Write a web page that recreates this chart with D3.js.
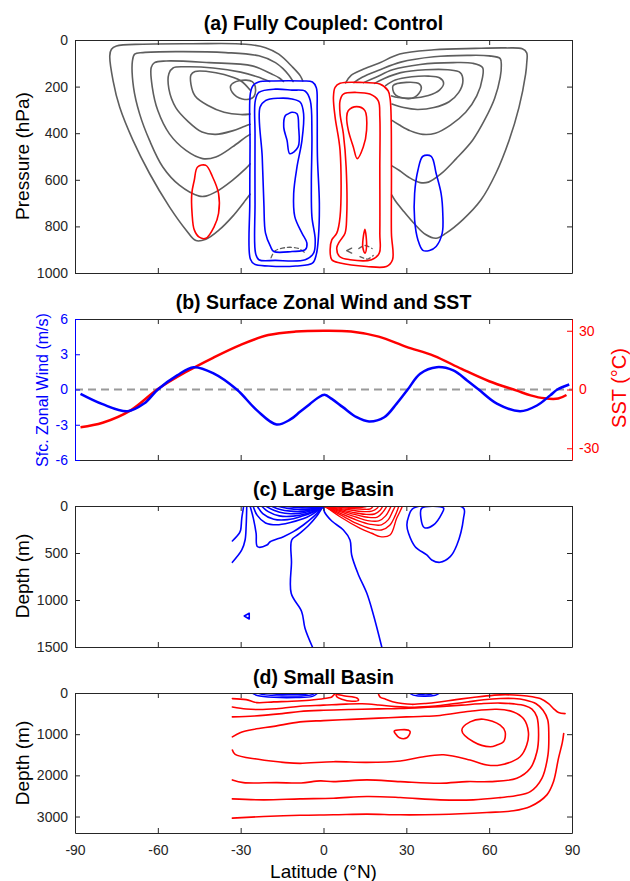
<!DOCTYPE html>
<html><head><meta charset="utf-8">
<script src="https://cdn.jsdelivr.net/npm/d3@7"></script>
<style>
body{margin:0;background:#fff;}
svg{display:block;}
</style></head><body>
<svg id="chart" width="630" height="881"></svg>
<script>
// ================= DATA =================
const latTicks = [-90, -60, -30, 0, 30, 60, 90];
const pTicks = [0, 200, 400, 600, 800, 1000];
const windTicks = [-6, -3, 0, 3, 6];
const sstTicks = [-30, 0, 30];
const depthTicksC = [0, 500, 1000, 1500];
const depthTicksD = [0, 1000, 2000, 3000];
const titles = ["(a) Fully Coupled: Control", "(b) Surface Zonal Wind and SST", "(c) Large Basin", "(d) Small Basin"];

// ---- Panel (b): surface zonal wind (m/s) and SST (°C) ----
const windLat = [-88,-80,-71,-65,-60,-53,-47,-40,-31.4,-24,-17,-12,-8.5,-5,-2,0.4,3,7,12,16.5,22,26.5,30.5,35,41,47,52,56.2,62.8,71.2,77.3,82.1,84.7,89];
const windVal = [-0.37,-1.25,-1.85,-1.2,0,1.2,1.9,1.4,0,-1.8,-2.98,-2.55,-1.9,-1.25,-0.7,-0.45,-0.8,-1.5,-2.36,-2.72,-2.36,-1.2,0,1.34,1.9,1.62,0.77,0,-1.2,-1.85,-1.36,-0.5,0,0.43];
const sstLat = [-88,-80,-70,-60,-50,-40,-30,-20,-10,0,10,20,30,40,50,60,70,75,80,85,88];
const sstVal = [-19.3,-17.0,-10.8,0.2,8.8,16.2,22.8,27.8,29.6,30.0,29.6,27.0,21.8,17.2,10.5,4.2,-0.6,-3.0,-4.5,-4.6,-2.8];

// ---- Panel (a): atmospheric contours, [latitude, pressure hPa] ----
const aGray1 = [[-7.5,176],[-8.4,154],[-11.4,114],[-16.2,61],[-21,33],[-28.2,18],[-47.4,16],[-65.4,18],[-75,26],[-76.8,40],[-77.4,68],[-76.2,175],[-73.8,289],[-69,431],[-63,573],[-55.8,716],[-49.8,815],[-46.2,861],[-42.6,855],[-37.8,815],[-33,758],[-28.2,687],[-26.6,662]];
const aGray2 = [[-11,178],[-12.6,150],[-14.5,125],[-17.4,97],[-23.4,68],[-35.4,54],[-53.4,50],[-65.4,54],[-68.4,61],[-69.2,90],[-68.8,203],[-66.6,317],[-63,431],[-58.2,545],[-52.2,623],[-45,670],[-42.6,670],[-39,652],[-33,602],[-28.2,552],[-26.6,532]];
const aGray3 = [[-14.5,178],[-16,163],[-18.6,147],[-25.8,111],[-41.4,97],[-57,90],[-61.2,97],[-62.4,118],[-62,203],[-60,303],[-55.8,403],[-49.8,474],[-43.8,509],[-39,502],[-33,459],[-28.2,417],[-26.6,405]];
const aGray4 = [[-19.5,178],[-24,158],[-30,138],[-40,120],[-50,115],[-54.5,120],[-56,145],[-56,210],[-53.5,290],[-49,350],[-44,395],[-39,405],[-33,390],[-28.5,370],[-26.6,362]];
const aGray5 = [[-26.6,215],[-30,175],[-36,148],[-42,135],[-46.5,135],[-48,150],[-48,190],[-46.5,240],[-42,280],[-36,310],[-30,320],[-26.6,318]];
const aGrayN1 = [[8,184],[10,152],[14,128],[20,100],[27.6,60],[40,42],[55,36],[66,34],[72,38],[73.6,55],[73.6,100],[73.2,146],[70.8,289],[67.2,431],[62.4,573],[57,687],[50.4,772],[44.4,829],[40.8,851],[37,835],[33,790],[29,735],[26,690],[24.7,665]];
const aGrayN2 = [[11,183],[14,160],[20,130],[28,95],[40,72],[52,66],[60,68],[64,80],[64.4,110],[64,160],[62,250],[58.5,340],[54,430],[48,510],[42.5,575],[38,610],[35,612],[31,590],[27.5,560],[24.8,540]];
const aGrayN3 = [[14.5,183],[19,160],[25,128],[35,105],[47,97],[54,100],[57.6,118],[57.6,160],[55.5,240],[51.5,310],[46,365],[40.5,400],[36,405],[31.5,390],[27.5,365],[24.8,345]];
const aGrayN4 = [[18.5,186],[22,165],[28,140],[37,128],[45,128],[49.5,140],[50.5,175],[49,225],[45.5,265],[40,290],[34,298],[29,290],[24.8,275]];
const aGrayN5 = [[22.5,196],[26,172],[32,158],[38,155],[42,162],[43.5,185],[42,215],[38,238],[32,250],[27,247],[24.7,240]];
const aGrayLoopS = [[-33.6,196],[-30.6,175],[-25.8,179],[-24.6,218],[-25.8,249],[-29.4,253],[-33,225]];
const aGrayLoopN = [[25.2,196],[30,182],[34.8,189],[35.4,210],[33,246],[28.8,249],[25.8,232]];
const aDash1 = [[-19,935],[-17.5,905],[-13,890],[-9,895],[-6.8,912]];
const aDash2 = [[10.2,893],[8.4,904],[10.2,915]];
const aDash3 = [[12.8,895],[15,882],[17.6,895]];
const aDash4 = [[13.2,930],[16,940],[18,925]];
const aBlue1 = [[-26.5,230],[-25.5,195],[-23.5,180],[-18,176],[-8,176],[-4,180],[-2.6,205],[-2.3,300],[-2.2,500],[-1.5,700],[-1.8,840],[-2.6,920],[-4,958],[-10,970],[-20,970],[-25,962],[-26.5,940],[-26.7,700],[-26.6,450]];
const aBlue2 = [[-24.7,260],[-23.4,225],[-17.4,211],[-11.4,215],[-6.6,220],[-4.8,260],[-4.2,403],[-4.4,616],[-4.2,758],[-3,858],[-3.6,915],[-6.6,943],[-17.4,946],[-23.4,943],[-24.6,915],[-24.8,700],[-24.8,403]];
const aBlue3 = [[-23,289],[-21,260],[-16.2,250],[-11.4,253],[-8.4,267],[-7.2,317],[-7.8,431],[-9.6,545],[-10.8,659],[-10.4,758],[-7.8,829],[-6,872],[-6.6,900],[-11.4,908],[-18,908],[-19.2,886],[-21,829],[-21.6,700],[-22.2,500]];
const aBlue4 = [[-12.8,317],[-11.4,310],[-9.6,317],[-9,374],[-9.2,459],[-12.2,488],[-13.2,431],[-14.4,374],[-13.8,324]];
const aBlueN = [[36,499],[39,499],[40.8,573],[42.6,659],[43.2,744],[43,829],[40.8,886],[38.4,903],[36,903],[34.2,858],[33,772],[33,659],[34.2,559]];
const aRedS = [[-45.6,545],[-42.6,538],[-40.2,587],[-38,659],[-38,744],[-39.6,801],[-42.6,851],[-45,846],[-46.8,815],[-47.6,744],[-47.7,659],[-46.8,602]];
const aRed1 = [[3.6,246],[4.2,203],[6,186],[13.2,182],[20.4,189],[23.4,218],[24.2,260],[24.6,545],[24.6,829],[25,943],[22.8,972],[15.6,972],[6,957],[3,943],[2.4,900],[3,858],[4.8,829],[6,758],[6,474],[4.2,331]];
const aRed2 = [[6,260],[7.2,232],[12,225],[16.8,232],[19.8,260],[20.4,331],[20.4,545],[20.4,829],[20.2,915],[17.4,943],[9.6,943],[5.8,929],[4.8,893],[5.8,865],[7.8,829],[8.4,758],[8.2,545],[7.2,403],[6,317]];
const aRed3 = [[9,303],[12,286],[15,303],[15.6,388],[14.4,459],[12.2,509],[10.8,459],[9,388],[8.4,331]];
const aRed4 = [[15,812],[15.6,886],[15,915],[14.2,886]];

// ---- Panel (c): large basin, [latitude, depth m] ----
const cBlueA = [[-29,0],[-29,14],[-29.6,131],[-30,255],[-30.5,290],[-33,372]];
const cBlueB = [[-27.8,0],[-28,202],[-28.4,362],[-29.6,468],[-33,599]];
const cBlueC = [[-26.6,0],[-25.4,131],[-24.4,291],[-23.9,433],[-20.5,415],[-19.3,380],[-14.5,326],[-10.9,273],[-7.3,202],[-3.6,114],[-1.2,43],[0,0]];
const cBlueF1 = [[-25.5,0],[-24,100],[-21,180],[-17,200],[-12,175],[-6,120],[-2,50],[0,0]];
const cBlueF2 = [[-24,0],[-22,80],[-18,140],[-13,145],[-8,110],[-3,55],[0,0]];
const cBlueF3 = [[-22.5,0],[-20,60],[-16,105],[-11,108],[-6,80],[-2,35],[0,0]];
const cBlueF4 = [[-21,0],[-18,45],[-14,78],[-9,78],[-5,55],[-1.5,22],[0,0]];
const cBlueF5 = [[-19,0],[-16,35],[-12,55],[-7,55],[-3,33],[0,0]];
const cBlueF6 = [[-17,0],[-13,25],[-9,38],[-5,33],[-2,18],[0,0]];
const cBlueF7 = [[-14,0],[-10,15],[-6,22],[-3,15],[0,0]];
const cBlueF8 = [[-11,0],[-7,9],[-4,11],[-1.5,6],[0,0]];
const cBlueV = [[-4,1500],[-6.7,1301],[-7.9,1124],[-11.7,929],[-11.6,600],[-11.5,362],[-9,300],[-5.5,210],[-2.5,110],[-0.6,25],[0,0],[0.3,60],[3,160],[7.2,255],[9.6,362],[10.2,521],[12.5,720],[15.7,929],[18.1,1160],[21.1,1500]];
const cBlueTri = [[-28.7,1170],[-26.9,1141],[-26.9,1202]];
const cBlueLoop1 = [[32.6,22],[50.7,22],[50.7,131],[48.3,415],[45.9,539],[42.2,599],[39.2,574],[37.4,521],[33.2,433],[30.8,291],[30.2,202],[30.8,114]];
const cBlueLoop2 = [[35.6,22],[43.5,22],[42.9,78],[39.8,202],[36.5,230],[35.3,131]];
const cRed1 = [[0.5,0],[6,114],[13.3,237],[17.5,290],[20.5,326],[24.1,309],[26.5,131],[28.4,14],[28.5,0]];
const cRed2 = [[0,0],[6,92],[12,185],[17,240],[21,255],[24,205],[26,100],[27.3,0]];
const cRed3 = [[0,0],[6,75],[12,150],[17,195],[21,200],[23.5,145],[25,60],[26,0]];
const cRed4 = [[0,0],[6,60],[12,120],[16,155],[20,158],[22.5,105],[24.5,0]];
const cRed5 = [[0,0],[6,48],[12,95],[16,120],[19.5,118],[21.5,65],[23,0]];
const cRed6 = [[0,0],[6,36],[11,70],[15,88],[18.5,85],[20.5,45],[21.5,0]];
const cRed7 = [[0,0],[6,25],[11,48],[15,60],[17.5,55],[19.5,22],[20,0]];
const cRed8 = [[0,0],[6,15],[11,30],[14.5,35],[17,30],[18,0]];
const cRed9 = [[0,0],[6,7],[10,14],[13.5,16],[15.5,6],[16,0]];

// ---- Panel (d): small basin, [latitude, depth m] ----
const dRed1 = [[-33,136],[-28,160],[-24.2,233],[-18,215],[-11.5,201],[-5,175],[-1.8,152],[1.5,120],[3,96],[4.2,15],[4.4,0]];
const dRedTop = [[19.8,0],[20.5,100],[22.5,150],[25,210],[28.5,257],[32,275],[37,255],[42,217],[48,160],[54,110],[59,70],[64,45],[69,48],[73.7,72],[78.5,136],[81.5,260],[83.3,378],[85.1,475],[87.5,500]];
const dRed2 = [[-33,340],[-28,390],[-22,400],[-15,370],[-8.5,320],[0,295],[8,270],[14,262],[20,290],[26,330],[32,350],[38,330],[45,280],[52,220],[58,165],[64,135],[69,135],[73,170],[77,260],[79.5,420],[81.2,650],[81.6,1023],[81.3,1500],[79.1,2071],[74.9,2394],[70,2490],[64,2540],[54.3,2595],[42.2,2595],[27.8,2538],[15.7,2514],[3.6,2555],[-8.5,2571],[-21.7,2595],[-33,2571]];
const dRed3 = [[-33,580],[-25,560],[-15,500],[-8.5,450],[0,420],[9.6,400],[20,385],[27.8,375],[35,355],[42,330],[50,295],[58,255],[64,245],[69,265],[73,310],[75.5,390],[77.3,580],[77.9,1023],[77.3,1427],[74.9,1829],[70,2071],[60.4,2152],[51.9,2152],[42.2,2192],[27.8,2152],[15.7,2111],[3.6,2152],[-1.2,2135],[-8.1,2184],[-16.9,2176],[-29,2176],[-33,2111]];
const dRed4 = [[-33,1064],[-30,960],[-25,880],[-18,810],[-8.5,701],[0,670],[10,640],[20,610],[30,580],[35,570],[42.2,545],[53.1,443],[62.8,394],[68.8,459],[72.4,620],[74.2,943],[73.6,1265],[71.2,1548],[64,1748],[59.2,1748],[53.1,1628],[43.5,1500],[35,1560],[27.8,1650],[15.7,1684],[3.6,1668],[-8.5,1708],[-13.7,1690],[-23.6,1611],[-32,1491],[-33,1386]];
const dRed5 = [[-33,3038],[-21.7,3000],[-8.5,2970],[3.6,2958],[15.7,2941],[27.8,2958],[42,2950],[59.2,2902],[68.8,2861],[74.9,2757],[80.9,2474],[83.3,2152],[85.1,1587],[86.5,1200],[87,982]];
const dRedLens = [[4.6,40],[7.8,72],[12.1,121],[12.7,177],[10.3,201],[6.6,152],[4.8,90]];
const dRedLoop1 = [[50.1,902],[53.1,701],[57.9,636],[64,781],[65.8,943],[65.2,1185],[62.8,1265],[60.4,1306],[54.3,1185]];
const dRedLoop2 = [[25.6,926],[30.8,902],[31.4,943],[30.2,1088],[27.5,1088],[26,982]];
const dBlue1 = [[-26,0],[-24,60],[-18,105],[-10,110],[-4,80],[-2,0]];
const dBlue2 = [[-24,0],[-21,45],[-15,72],[-8,72],[-4,40],[-3,0]];
const dBlue3 = [[-21,0],[-17,30],[-11,40],[-6,25],[-5,0]];
const dBlue4 = [[31,0],[32.5,50],[36.5,80],[40.5,55],[42.2,0]];
const dBlue5 = [[33,0],[35,35],[38,42],[40,0]];

// ================= DRAWING =================
const FONT = '"Liberation Sans", Arial, Helvetica, sans-serif';
const AX = "#262626", GRAY = "#5e5e5e", RED = "#ff0000", BLUE = "#0000ff";
const svg = d3.select("#chart");
const x = d3.scaleLinear().domain([-90, 90]).range([75, 572]);
const L = 75, R = 572;
const yA = d3.scaleLinear().domain([0, 1000]).range([40, 273]);
const yW = d3.scaleLinear().domain([-6, 6]).range([460, 319]);
const yS = d3.scaleLinear().domain([-36, 36]).range([460, 319]);
const yC = d3.scaleLinear().domain([0, 1500]).range([506, 647]);
const yD = d3.scaleLinear().domain([0, 3400]).range([693, 833]);

function clip(id, y) {
  const [t, b] = y.range();
  svg.append("clipPath").attr("id", id).append("rect")
    .attr("x", L).attr("y", Math.min(t, b)).attr("width", R - L).attr("height", Math.abs(b - t));
  return svg.append("g").attr("clip-path", `url(#${id})`);
}
function draw(g, y, list, color, opt = {}) {
  list.forEach(pts => {
    const curve = opt.closed ? d3.curveCatmullRomClosed.alpha(0.5) : d3.curveCatmullRom.alpha(0.5);
    const line = d3.line().x(d => x(d[0])).y(d => y(d[1])).curve(opt.linear ? (opt.closed ? d3.curveLinearClosed : d3.curveLinear) : curve);
    g.append("path").attr("d", line(pts)).attr("fill", "none")
      .attr("stroke", color).attr("stroke-width", opt.w || 1.6)
      .attr("stroke-linejoin", "round").attr("stroke-linecap", "round")
      .attr("stroke-dasharray", opt.dash || null);
  });
}
function styleAxis(g, color) {
  g.attr("font-size", 14).attr("font-family", FONT);
  g.select(".domain").attr("stroke", color).attr("stroke-width", 1);
  g.selectAll(".tick line").attr("stroke", color);
  g.selectAll(".tick text").attr("fill", color);
}
function frame(y, ticks, opts = {}) {
  const [t, b] = [d3.min(y.range()), d3.max(y.range())];
  const fmt = d => String(d);
  const gb = svg.append("g").attr("transform", `translate(0,${b})`)
    .call(d3.axisBottom(x).tickValues(latTicks).tickSize(-5).tickSizeOuter(0).tickPadding(12).tickFormat(opts.xLabels ? fmt : ""));
  styleAxis(gb, AX);
  const gt = svg.append("g").attr("transform", `translate(0,${t})`)
    .call(d3.axisTop(x).tickValues(latTicks).tickSize(-5).tickSizeOuter(0).tickFormat(""));
  styleAxis(gt, AX);
  if (ticks) {
    const gl = svg.append("g").attr("transform", `translate(${L},0)`)
      .call(d3.axisLeft(y).tickValues(ticks).tickSize(-5).tickSizeOuter(0).tickPadding(7).tickFormat(fmt));
    styleAxis(gl, AX);
    const gr = svg.append("g").attr("transform", `translate(${R},0)`)
      .call(d3.axisRight(y).tickValues(ticks).tickSize(-5).tickSizeOuter(0).tickFormat(""));
    styleAxis(gr, AX);
  }
}
function title(txt, yb) {
  svg.append("text").attr("x", (L + R) / 2).attr("y", yb).attr("text-anchor", "middle")
    .attr("font-family", FONT).attr("font-weight", "bold").attr("font-size", 19.5).attr("fill", "#000").text(txt);
}
function ylabel(txt, cx, cy, size, color) {
  svg.append("text").attr("transform", `translate(${cx},${cy}) rotate(-90)`).attr("text-anchor", "middle")
    .attr("dy", "0.35em").attr("font-family", FONT).attr("font-size", size).attr("fill", color).text(txt);
}

// ---------- Panel (a) ----------
const ga = clip("ca", yA);
draw(ga, yA, [aGray1, aGray2, aGray3, aGray4, aGray5, aGrayN1, aGrayN2, aGrayN3, aGrayN4, aGrayN5], GRAY);
draw(ga, yA, [aGrayLoopS, aGrayLoopN], GRAY, { closed: true });
draw(ga, yA, [aDash1, aDash3, aDash4], GRAY, { dash: "4,3", w: 1.3 });
draw(ga, yA, [aDash2], GRAY, { linear: true, w: 1.3 });
draw(ga, yA, [aBlue1, aBlue2, aBlue3, aBlue4, aBlueN], BLUE, { closed: true });
draw(ga, yA, [aRedS, aRed1, aRed2, aRed3, aRed4], RED, { closed: true });
frame(yA, pTicks);
title(titles[0], 30);
ylabel("Pressure (hPa)", 22, 156, 19, "#000");

// ---------- Panel (b) ----------
const gbp = clip("cb", yW);
gbp.append("line").attr("x1", L).attr("x2", R).attr("y1", yW(0)).attr("y2", yW(0))
  .attr("stroke", "#9a9a9a").attr("stroke-width", 2.2).attr("stroke-dasharray", "8,5");
const windPts = windLat.map((d, i) => [d, windVal[i]]);
const sstPts = sstLat.map((d, i) => [d, sstVal[i]]);
gbp.append("path").attr("d", d3.line().x(d => x(d[0])).y(d => yS(d[1])).curve(d3.curveCatmullRom.alpha(0.5))(sstPts))
  .attr("fill", "none").attr("stroke", RED).attr("stroke-width", 2.5);
gbp.append("path").attr("d", d3.line().x(d => x(d[0])).y(d => yW(d[1])).curve(d3.curveCatmullRom.alpha(0.5))(windPts))
  .attr("fill", "none").attr("stroke", BLUE).attr("stroke-width", 2.5);
frame(yW, null);
const gwl = svg.append("g").attr("transform", `translate(${L},0)`)
  .call(d3.axisLeft(yW).tickValues(windTicks).tickSize(-5).tickSizeOuter(0).tickPadding(7).tickFormat(d => String(d)));
styleAxis(gwl, BLUE);
const gsr = svg.append("g").attr("transform", `translate(${R},0)`)
  .call(d3.axisRight(yS).tickValues(sstTicks).tickSize(-5).tickSizeOuter(0).tickPadding(7).tickFormat(d => String(d)));
styleAxis(gsr, RED);
title(titles[1], 309);
ylabel("Sfc. Zonal Wind (m/s)", 42, 390, 16, BLUE);
ylabel("SST (°C)", 619, 388, 20, RED);

// ---------- Panel (c) ----------
const gc = clip("cc", yC);
draw(gc, yC, [cBlueA, cBlueB, cBlueC, cBlueF1, cBlueF2, cBlueF3, cBlueF4, cBlueF5, cBlueF6, cBlueF7, cBlueF8, cBlueV], BLUE);
draw(gc, yC, [cBlueTri], BLUE, { closed: true, linear: true });
draw(gc, yC, [cBlueLoop1, cBlueLoop2], BLUE, { closed: true });
draw(gc, yC, [cRed1, cRed2, cRed3, cRed4, cRed5, cRed6, cRed7, cRed8, cRed9], RED, { w: 1.4 });
frame(yC, depthTicksC);
title(titles[2], 496);
ylabel("Depth (m)", 22, 576, 19, "#000");

// ---------- Panel (d) ----------
const gd = clip("cd", yD);
draw(gd, yD, [dRed1, dRedTop, dRed2, dRed3, dRed4, dRed5], RED);
draw(gd, yD, [dRedLens, dRedLoop1, dRedLoop2], RED, { closed: true });
draw(gd, yD, [dBlue1, dBlue2, dBlue3, dBlue4, dBlue5], BLUE, { w: 1.4 });
frame(yD, depthTicksD, { xLabels: true });
title(titles[3], 684);
ylabel("Depth (m)", 22, 763, 19, "#000");
svg.append("text").attr("x", (L + R) / 2).attr("y", 878).attr("text-anchor", "middle")
  .attr("font-family", FONT).attr("font-size", 19).attr("fill", "#000").text("Latitude (°N)");
</script>
</body></html>
